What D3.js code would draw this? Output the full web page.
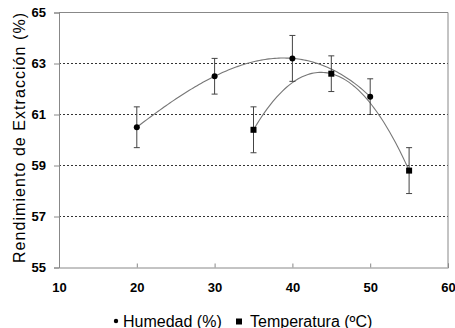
<!DOCTYPE html>
<html>
<head>
<meta charset="utf-8">
<script src="https://cdn.jsdelivr.net/npm/d3@7"></script>
<style>
  body { margin: 0; background: #fff; }
  svg { display: block; }
</style>
</head>
<body>
<div id="chart"></div>
<script>
// data
const humedadX = [20, 30, 40, 50];
const humedadY = [60.5, 62.5, 63.2, 61.7];
const humedadErr = [0.8, 0.7, 0.9, 0.7];

const tempX = [35, 45, 55];
const tempY = [60.4, 62.6, 58.8];
const tempErr = [0.9, 0.7, 0.9];

const xTicks = [10, 20, 30, 40, 50, 60];
const yTicks = [55, 57, 59, 61, 63, 65];
const gridTicks = [57, 59, 61, 63];

const width = 455;
const height = 328;

const svg = d3.select("#chart")
    .append("svg")
    .attr("width", width)
    .attr("height", height);

const x = d3.scaleLinear().domain([10, 60]).range([59, 448]);
const y = d3.scaleLinear().domain([55, 65]).range([267.5, 12.5]);

const axisColor = "#888";
const font = "Liberation Sans, Arial, sans-serif";

// dotted grid lines
svg.selectAll("line.grid")
    .data(gridTicks)
    .enter()
    .append("line")
    .attr("x1", x(10))
    .attr("x2", x(60))
    .attr("y1", d => y(d))
    .attr("y2", d => y(d))
    .attr("stroke", "#333")
    .attr("stroke-width", 1)
    .attr("stroke-dasharray", "2,2");

// frame top and right
svg.append("line")
    .attr("x1", x(10)).attr("x2", x(60))
    .attr("y1", y(65)).attr("y2", y(65))
    .attr("stroke", axisColor);
svg.append("line")
    .attr("x1", x(60)).attr("x2", x(60))
    .attr("y1", y(65)).attr("y2", y(55))
    .attr("stroke", axisColor);

const yAxis = svg.append("g")
    .attr("transform", `translate(${x(10)},0)`)
    .call(d3.axisLeft(y).tickValues(yTicks).tickSize(5).tickPadding(8));

const xAxis = svg.append("g")
    .attr("transform", `translate(0,${y(55)})`)
    .call(d3.axisBottom(x).tickValues(xTicks).tickSize(-4).tickPadding(15));

[yAxis, xAxis].forEach(g => {
    g.select(".domain").attr("stroke", axisColor);
    g.selectAll(".tick line").attr("stroke", axisColor);
    g.selectAll("text")
        .attr("fill", "#000")
        .style("font-family", font)
        .style("font-weight", "bold")
        .style("font-size", "13px");
});

// trend curves: polynomial through the points of each series
function lagrange(xs, ys) {
    return t => d3.sum(xs, (xi, i) => {
        let p = ys[i];
        xs.forEach((xj, j) => { if (j !== i) p *= (t - xj) / (xi - xj); });
        return p;
    });
}

const line = d3.line().x(d => x(d[0])).y(d => y(d[1]));

function trend(xs, ys) {
    const f = lagrange(xs, ys);
    const pts = d3.range(xs[0], xs[xs.length - 1] + 0.001, 0.25).map(t => [t, f(t)]);
    svg.append("path")
        .attr("d", line(pts))
        .attr("fill", "none")
        .attr("stroke", "#777")
        .attr("stroke-width", 1.1);
}
trend(humedadX, humedadY);
trend(tempX, tempY);

// error bars
function errorBars(xs, ys, errs) {
    const g = svg.append("g").attr("stroke", "#444").attr("stroke-width", 1);
    xs.forEach((xv, i) => {
        g.append("line")
            .attr("x1", x(xv)).attr("x2", x(xv))
            .attr("y1", y(ys[i] + errs[i])).attr("y2", y(ys[i] - errs[i]));
        [ys[i] + errs[i], ys[i] - errs[i]].forEach(v => {
            g.append("line")
                .attr("x1", x(xv) - 3).attr("x2", x(xv) + 3)
                .attr("y1", y(v)).attr("y2", y(v));
        });
    });
}
errorBars(humedadX, humedadY, humedadErr);
errorBars(tempX, tempY, tempErr);

// markers
svg.selectAll("circle.hum")
    .data(humedadX)
    .enter()
    .append("circle")
    .attr("cx", d => x(d))
    .attr("cy", (d, i) => y(humedadY[i]))
    .attr("r", 3)
    .attr("fill", "#000");

svg.selectAll("rect.temp")
    .data(tempX)
    .enter()
    .append("rect")
    .attr("x", d => x(d) - 3)
    .attr("y", (d, i) => y(tempY[i]) - 3)
    .attr("width", 6)
    .attr("height", 6)
    .attr("fill", "#000");

// y axis title
svg.append("text")
    .attr("transform", `translate(25,138) rotate(-90)`)
    .attr("text-anchor", "middle")
    .attr("textLength", 250)
    .attr("lengthAdjust", "spacing")
    .style("font-family", font)
    .style("font-size", "16px")
    .text("Rendimiento de Extracción (%)");

// legend
const legend = svg.append("g").attr("transform", "translate(0,326.5)");
legend.append("circle").attr("cx", 116).attr("cy", -5.5).attr("r", 2.2).attr("fill", "#000");
legend.append("text")
    .attr("x", 123).attr("y", 0)
    .style("font-family", font)
    .style("font-size", "16px")
    .text("Humedad (%)");
legend.append("rect").attr("x", 236).attr("y", -8).attr("width", 6).attr("height", 6).attr("fill", "#000");
legend.append("text")
    .attr("x", 250).attr("y", 0)
    .style("font-family", font)
    .style("font-size", "16px")
    .text("Temperatura (ºC)");
</script>
</body>
</html>
